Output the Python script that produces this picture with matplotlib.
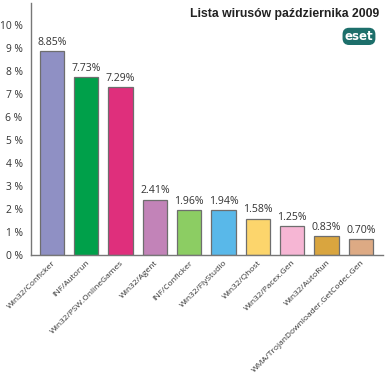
import numpy as np
import matplotlib.pyplot as plt

# Dane
names = ['Win32/Conficker', 'INF/Autorun', 'Win32/PSW.OnlineGames', 'Win32/Agent',
         'INF/Conficker', 'Win32/FlyStudio', 'Win32/Qhost', 'Win32/Pacex.Gen',
         'Win32/AutoRun', 'WMA/TrojanDownloader.GetCodec.Gen']
values = [8.85, 7.73, 7.29, 2.41, 1.96, 1.94, 1.58, 1.25, 0.83, 0.70]
colors = ['#8f90c4', '#00a04a', '#df2f7c', '#c283b8', '#8ccd63',
          '#59b8e9', '#fcd56c', '#f6b6d4', '#d9a53f', '#ddaa84']
yticks = list(range(0, 11))

plt.rcParams['font.family'] = ['Open Sans', 'DejaVu Sans']

fig = plt.figure(figsize=(3.86, 3.79), dpi=100)
ax = fig.add_axes([0.080, 0.327, 0.912, 0.665])

x = np.arange(len(values))
ax.bar(x, values, width=0.71, color=colors, edgecolor='#6e6e6e', linewidth=0.9)

for xi, v in zip(x, values):
    ax.text(xi, v + 0.15, f'{v:.2f}%', ha='center', va='bottom', fontsize=7.6, color='#333333')

ax.set_xlim(-0.61, 9.64)
ax.set_ylim(0, 10.95)
ax.set_yticks(yticks)
ax.set_yticklabels([f'{t} %' for t in yticks], fontsize=7.4, color='#333333')
ax.set_xticks(x)
ax.set_xticklabels(names, rotation=45, ha='right', rotation_mode='anchor',
                   fontsize=6.0, color='#333333')
ax.tick_params(axis='both', length=0, pad=3)
ax.tick_params(axis='y', pad=6)

for s in ['top', 'right']:
    ax.spines[s].set_visible(False)
for s in ['left', 'bottom']:
    ax.spines[s].set_color('#777777')
    ax.spines[s].set_linewidth(1.0)

fig.text(0.982, 0.962, 'Lista wirusów października 2009', ha='right', va='center',
         fontsize=8.8, fontweight='bold', family='Liberation Sans', color='#222222')
fig.text(0.930, 0.904, 'eset', ha='center', va='center', fontsize=8.5,
         fontweight='bold', family='DejaVu Sans', color='white',
         bbox=dict(boxstyle='round,pad=0.12,rounding_size=0.5', fc='#1d6f6b', ec='#1d6f6b'))

fig.savefig('out.png', dpi=100)
